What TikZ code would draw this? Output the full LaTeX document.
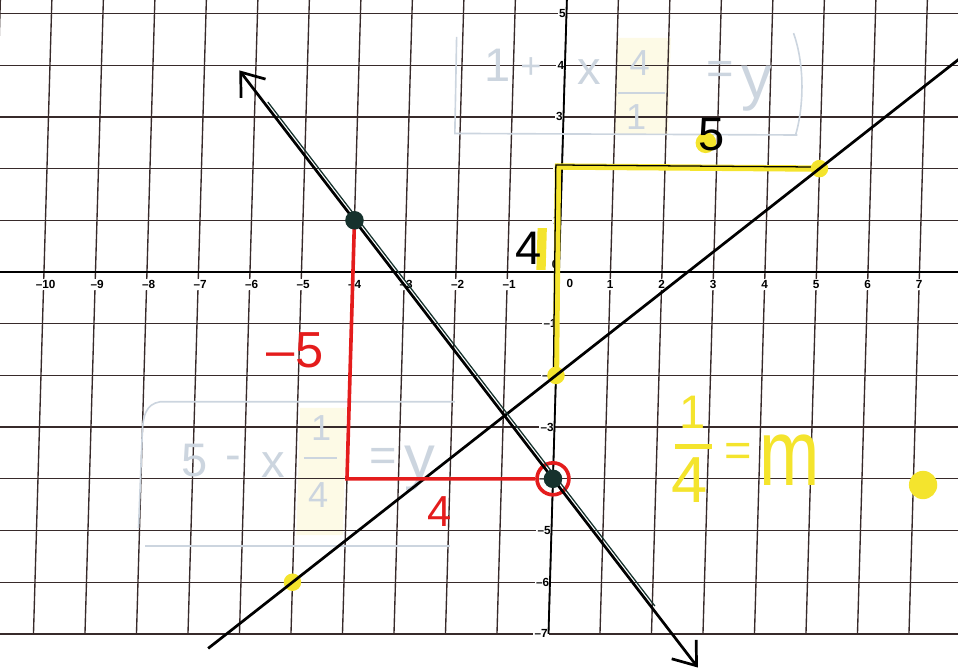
\documentclass[tikz,border=0pt]{standalone}
\usepackage{fontspec}
\setmainfont{Liberation Sans}
\setsansfont{Liberation Sans}
\usetikzlibrary{arrows.meta,calc}

\definecolor{gridgray}{RGB}{55,42,42}
\definecolor{hiyellow}{RGB}{244,228,45}
\definecolor{paleyellow}{RGB}{253,250,230}
\definecolor{redink}{RGB}{228,28,28}
\definecolor{tealink}{RGB}{22,50,45}
\definecolor{faintblue}{RGB}{204,213,223}

\begin{document}
\begin{tikzpicture}[
    x=1cm, y=1.0039cm,
    gridline/.style={draw=gridgray, line width=0.75pt},
    axisline/.style={draw=black, line width=1pt},
    ticklabel/.style={font=\fontsize{6.5}{7}\selectfont\bfseries, fill=white, inner sep=0.8pt},
    faint/.style={text=faintblue, font=\fontsize{26}{26}\selectfont, inner sep=0pt},
    faintline/.style={draw=faintblue, line width=0.9pt},
    highlight/.style={fill=paleyellow, draw=none},
    yellowpen/.style={draw=hiyellow, line width=3.5pt},
    thinpen/.style={draw=black, line width=0.7pt},
    blob/.style={circle, fill=hiyellow, inner sep=0pt, minimum size=0.34cm},
    pen/.style={draw=black, line width=1.5pt},
    tealline/.style={draw=tealink, line width=0.7pt},
    redpen/.style={draw=redink, line width=2pt},
    dot/.style={circle, fill=tealink, inner sep=0pt, minimum size=0.36cm},
    hand/.style={inner sep=0pt, font=\fontsize{26}{28}\selectfont},
    >={Straight Barb[length=4mm,width=6mm]}
]
\useasboundingbox (-10.854,-7.66) rectangle (7.748,5.261);
\clip (-10.854,-7.66) rectangle (7.748,5.261);
\begin{scope}[cm={1,0,0.029,1,(0,0)}]
    \fill[highlight] (1.0,2.65) rectangle (2.04,4.53);
    \fill[highlight] (-4.95,-5.09) rectangle (-4.05,-2.63);

    \foreach \i in {-11,...,8}
        \draw[gridline] (\i,-7) -- (\i,5.6);
    \foreach \j in {-7,...,5}
        \draw[gridline] (-11.5,\j) -- (8.5,\j);

    \foreach \i in {1,...,10}
        \node[ticklabel] (xm\i) at (-\i+0.04,-0.24) {--\i};
    \foreach \i in {1,...,7}
        \node[ticklabel] (xp\i) at (\i,-0.24) {\i};
    \node[ticklabel] (xz) at (0.22,-0.22) {0};
    \foreach \j in {1,...,7}
        \node[ticklabel, anchor=east] (ym\j) at (0.02,-\j) {--\j};
    \foreach \j in {1,...,5}
        \node[ticklabel, anchor=east] (yp\j) at (0.02,\j) {\j};
    \node[ticklabel, anchor=east] (yz) at (0.02,0.15) {0};

    \draw[axisline] (0,-7) -- (0,5.6);
    \draw[axisline] (-11.5,0) -- (8.5,0);

    % erased work
    \draw[faintline] (-2.12,4.55) -- (-2.1,2.68) -- (4.55,2.65);
    \draw[faintline] (4.42,4.62) .. controls (4.66,4.0) and (4.66,3.2) .. (4.52,2.66);
    \node[faint] (t1) at (-1.30,4.0) {1};
    \node[faint, font=\fontsize{20}{20}\selectfont] (tplus) at (-0.66,3.95) {+};
    \node[faint] (tx) at (0.48,3.87) {x};
    \node[faint, font=\fontsize{20}{20}\selectfont] (tnum) at (1.45,4.05) {4};
    \draw[faintline] (1.05,3.46) -- (1.95,3.46);
    \node[faint, font=\fontsize{20}{20}\selectfont] (tden) at (1.41,3.0) {1};
    \node[faint] (teq) at (3.02,3.85) {=};
    \node[faint, font=\fontsize{34}{34}\selectfont] (ty) at (3.74,3.55) {y};

    \draw[faintline] (-1.95,-2.51) -- (-7.67,-2.51) .. controls (-7.95,-2.55) and (-8.0,-2.8) .. (-8.0,-3.1) -- (-8.02,-4.95);
    \draw[faintline] (-7.88,-5.3) -- (-1.96,-5.3);
    \node[faint] (b5) at (-6.96,-3.64) {5};
    \node[faint] (bminus) at (-6.22,-3.7) {-};
    \node[faint] (bx) at (-5.44,-3.73) {x};
    \node[faint, font=\fontsize{20}{20}\selectfont] (bnum) at (-4.53,-3.02) {1};
    \draw[faintline] (-4.85,-3.6) -- (-4.2,-3.6);
    \node[faint, font=\fontsize{20}{20}\selectfont] (bden) at (-4.55,-4.31) {4};
    \node[faint] (beq) at (-3.31,-3.64) {=};
    \node[faint, font=\fontsize{34}{34}\selectfont] (by) at (-2.59,-3.8) {y};

    \coordinate (low) at (-5,-6);
    \coordinate (yint) at (0,-2);
    \coordinate (rise) at (-0.08,2.04);
    \coordinate (run) at (5,2);
    \coordinate (upper) at (-4,1);
    \coordinate (lower) at (0,-4);
    \coordinate (corner) at (-4,-4);

    \draw[yellowpen] (yint) -- (rise) -- (run);
    \draw[thinpen] ($(yint)+(-0.05,0)$) -- ($(rise)+(-0.04,0.03)$) -- ($(run)+(0,0.03)$);
    \node[blob] (blobLow) at (low) {};
    \node[blob] (blobInt) at (yint) {};
    \node[blob] (blobRun) at (run) {};

    \draw[pen] ($(yint)!-1.32!(run)$) -- ($(yint)!2.2!(run)$);

    \node[draw=redink, line width=2pt, circle, minimum size=0.62cm, inner sep=0pt] (ring) at (lower) {};
    \draw[redpen] (upper) -- (corner) -- (ring.west);

    \draw[tealline] ($(upper)!-0.45!(lower)+(0.05,0.04)$) -- ($(upper)!1.5!(lower)+(0.05,0.04)$);
    \draw[pen, <->] ($(upper)!-0.58!(lower)$) -- ($(upper)!1.73!(lower)$);
    \node[dot] (dotUp) at (upper) {};
    \node[dot] (dotLow) at (lower) {};

    \node[hand, text=redink, font=\fontsize{28}{30}\selectfont] (lblRise) at (-5.08,-1.51) {--5};
    \node[hand, text=redink, font=\fontsize{24}{26}\selectfont] (lblRun) at (-2.18,-4.64) {4};
    \fill[hiyellow] (-0.44,0.04) rectangle (-0.26,0.85);
    \node[hand] (lblUp) at (-0.61,0.46) {4};
    \fill[hiyellow] (2.78,2.5) circle (0.2);
    \node[hand] (lblOver) at (2.89,2.65) {5};

    \node[hand, text=hiyellow] (num) at (2.68,-2.71) {1};
    \draw[yellowpen, line width=2.5pt] (2.35,-3.37) -- (3.07,-3.37);
    \node[hand, text=hiyellow, font=\fontsize{36}{36}\selectfont] (den) at (2.66,-4.02) {4};
    \node[hand, text=hiyellow, font=\fontsize{26}{26}\selectfont] (eq) at (3.58,-3.54) {=};
    \node[hand, text=hiyellow, font=\fontsize{40}{40}\selectfont] (slope) at (4.58,-3.64) {\scalebox{1}[1.3]{m}};
    \node[blob, minimum size=0.55cm] (endBlob) at (7.19,-4.12) {};
\end{scope}
\end{tikzpicture}
\end{document}
